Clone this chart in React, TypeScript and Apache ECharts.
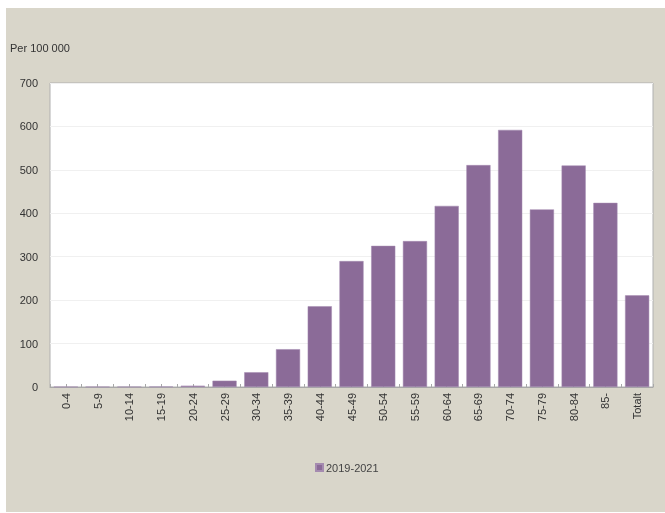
import React, { useEffect, useRef } from "react";
import * as echarts from "echarts";

const categories = ["0-4","5-9","10-14","15-19","20-24","25-29","30-34","35-39","40-44","45-49","50-54","55-59","60-64","65-69","70-74","75-79","80-84","85-","Totalt"];
const values2019_2021 = [0.3,0.3,0.5,1,3,14.5,34,87,186,290,325,336,417,511,592,409,510,424,211];
const yTicks = { min: 0, max: 700, interval: 100 };
const seriesName = "2019-2021";
const unitLabel = "Per 100 000";

export default function App() {
  const ref = useRef<HTMLDivElement>(null);
  useEffect(() => {
    const chart = echarts.init(ref.current!, null, { renderer: "svg" });
    const font = "'Liberation Sans', Arial, sans-serif";
    chart.setOption({
      animation: false,
      graphic: [
        { type: "rect", z: -10, shape: { x: 6, y: 8, width: 659, height: 504 }, style: { fill: "#d9d6ca" }, silent: true },
        { type: "text", x: 10, y: 42, style: { text: unitLabel, fontSize: 11, fill: "#333", fontFamily: font } },
      ],
      legend: {
        left: 310, top: 457,
        itemWidth: 7, itemHeight: 7, itemGap: 4,
        icon: "rect",
        textStyle: { fontSize: 11, color: "#444", fontFamily: font, padding: [0,0,0,-2] },
        data: [seriesName],
      },
      grid: { left: 50, top: 83, width: 603, height: 304, show: true, backgroundColor: "#ffffff", borderColor: "#b0b0b0", borderWidth: 1 },
      xAxis: [
        {
          type: "category", data: categories,
          axisLine: { lineStyle: { color: "#a8a8a8" } },
          axisTick: { show: true, inside: true, length: 3, alignWithLabel: true, interval: 0, lineStyle: { color: "#a8a8a8" } },
          axisLabel: { rotate: 90, interval: 0, fontSize: 11, color: "#333", fontFamily: font, margin: 6 },
        },
        {
          type: "category", data: categories, position: "bottom",
          axisLine: { show: false },
          axisTick: { show: true, inside: true, length: 3, interval: 0, lineStyle: { color: "#a8a8a8" } },
          axisLabel: { show: false },
        },
      ],
      yAxis: {
        type: "value", min: yTicks.min, max: yTicks.max, interval: yTicks.interval,
        axisLine: { show: false }, axisTick: { show: false },
        splitLine: { lineStyle: { color: "#f0f0f0" } },
        axisLabel: { fontSize: 11, color: "#333", fontFamily: font, margin: 12 },
      },
      series: [
        {
          name: seriesName, type: "bar", data: values2019_2021, barCategoryGap: "24%",
          itemStyle: { color: "#8b6b98", borderColor: "#a58bb0", borderWidth: 0.5 },
        },
      ],
    });
    return () => chart.dispose();
  }, []);
  return <div ref={ref} style={{ position: "fixed", left: 0, top: 0, width: 665, height: 513 }} />;
}
